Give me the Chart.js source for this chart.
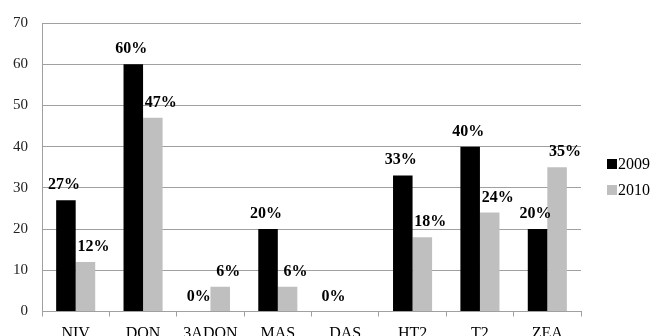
<!DOCTYPE html>
<html>
<head>
<meta charset="utf-8">
<script src="https://cdn.jsdelivr.net/npm/chart.js@4/dist/chart.umd.min.js"></script>
<style>
  html, body { margin: 0; padding: 0; background: #ffffff; }
  #wrap { width: 655px; height: 336px; position: relative; }
</style>
</head>
<body>
<div id="wrap"><canvas id="c" width="655" height="336"></canvas></div>
<script>
const categories = ['NIV', 'DON', '3ADON', 'MAS', 'DAS', 'HT2', 'T2', 'ZEA'];
const values2009 = [27, 60, 0, 20, 0, 33, 40, 20];
const values2010 = [12, 47, 6, 6, null, 18, 24, 35];
const seriesNames = ['2009', '2010'];
const yTicks = [0, 10, 20, 30, 40, 50, 60, 70];

const SERIF = '"Liberation Serif", "Times New Roman", serif';

const labelPlugin = {
  id: 'barLabels',
  afterDatasetsDraw(chart) {
    const ctx = chart.ctx;
    const dx = [-2, 8];
    ctx.save();
    ctx.font = 'bold 16px ' + SERIF;
    ctx.fillStyle = '#000';
    ctx.textAlign = 'center';
    ctx.textBaseline = 'alphabetic';
    chart.data.datasets.forEach((ds, di) => {
      const meta = chart.getDatasetMeta(di);
      meta.data.forEach((bar, i) => {
        const v = ds.data[i];
        if (v === null || v === undefined) return;
        ctx.fillText(v + '%', bar.x + dx[di], bar.y - 11);
      });
    });
    ctx.restore();
  }
};

const legendPlugin = {
  id: 'sideLegend',
  afterDraw(chart) {
    const ctx = chart.ctx;
    const area = chart.chartArea;
    const x = area.right + 26;
    ctx.save();
    ctx.font = '16px ' + SERIF;
    ctx.textAlign = 'left';
    ctx.textBaseline = 'alphabetic';
    chart.data.datasets.forEach((ds, di) => {
      const y = 159 + di * 26;
      ctx.fillStyle = ds.backgroundColor;
      ctx.fillRect(x, y, 10, 10);
      ctx.fillStyle = '#000';
      ctx.fillText(ds.label, x + 11, y + 10);
    });
    ctx.restore();
  }
};

new Chart(document.getElementById('c'), {
  type: 'bar',
  data: {
    labels: categories,
    datasets: [
      { label: seriesNames[0], data: values2009, backgroundColor: '#000000', categoryPercentage: 0.58, barPercentage: 1.0 },
      { label: seriesNames[1], data: values2010, backgroundColor: '#bfbfbf', categoryPercentage: 0.58, barPercentage: 1.0 }
    ]
  },
  options: {
    responsive: false,
    animation: false,
    devicePixelRatio: 1,
    layout: { padding: { left: 13, right: 74, top: 17, bottom: 0 } },
    plugins: {
      legend: { display: false },
      tooltip: { enabled: false }
    },
    scales: {
      x: {
        grid: { display: true, offset: true, drawOnChartArea: false, drawTicks: true, tickLength: 5, color: '#a0a0a0' },
        border: { display: true, color: '#a0a0a0' },
        ticks: { color: '#000', font: { family: SERIF, size: 16 }, padding: 8, maxRotation: 0, autoSkip: false },
        afterFit(scale) { scale.height = 24.5; }
      },
      y: {
        min: 0, max: 70,
        afterBuildTicks(scale) { scale.ticks = yTicks.map(v => ({ value: v })); },
        grid: { color: '#a0a0a0', drawTicks: false },
        border: { display: true, color: '#a0a0a0' },
        ticks: { color: '#222', font: { family: SERIF, size: 15 }, padding: 14 },
        afterFit(scale) { scale.width = 29; }
      }
    }
  },
  plugins: [labelPlugin, legendPlugin]
});
</script>
</body>
</html>
